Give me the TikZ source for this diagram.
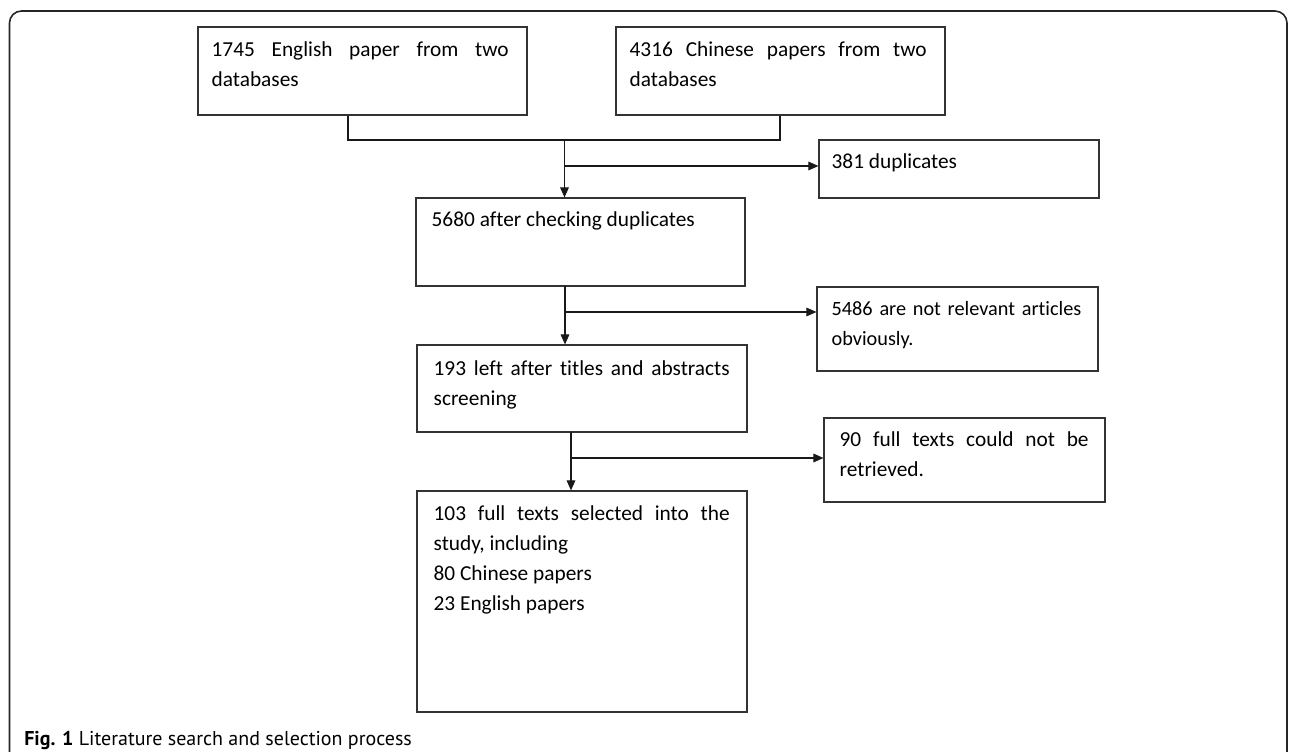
\documentclass[tikz,border=0pt]{standalone}
\usepackage{fontspec}
\setmainfont{Carlito}[RawFeature={-liga}]
\newfontfamily\capfont{PT Sans}
\usetikzlibrary{arrows.meta,fit}
\tikzset{
  frame/.style={draw=black!85, line width=1.2pt, rounded corners=9pt},
  box/.style={draw=black!80, line width=0.9pt, inner sep=0pt},
  txt/.style={anchor=base west, inner sep=0pt, align=justify,
    font={\fontsize{16pt}{22.5pt}\selectfont\hyphenpenalty=10000\tolerance=10000}},
  txtl/.style={anchor=base west, inner sep=0pt, align=left,
    font={\fontsize{16pt}{22.5pt}\selectfont\hyphenpenalty=10000}},
  conn/.style={draw=black!90, line width=0.8pt},
  arr/.style={conn, -{Triangle[length=7.5pt,width=6.5pt]}},
}
\begin{document}
\begin{tikzpicture}[x=0.75pt,y=-0.75pt]
\useasboundingbox (0,0) rectangle (1290,752);
\draw[frame] (9.5,752) -- (9.5,11) -- (1287,11) -- (1287,752);

% boxes
\node[box, fit={(198,27) (527,115)}] (b1) {};
\node[box, fit={(616,27) (945,115)}] (b2) {};
\node[box, fit={(819,140) (1099,198)}] (b381) {};
\node[box, fit={(416,198) (745,286)}] (b5680) {};
\node[box, fit={(817,287) (1098,371)}] (b5486) {};
\node[box, fit={(417,345) (747,432)}] (b193) {};
\node[box, fit={(824,418) (1105,502)}] (b90) {};
\node[box, fit={(417,491) (747,712)}] (b103) {};

% texts
\node[txt, text width=222.75pt] (t1) at ([shift={(14,30)}]b1.north west)
  {1745 English paper from two databases};
\node[txt, text width=222.75pt] (t2) at ([shift={(14,30)}]b2.north west)
  {4316 Chinese papers from two databases};
\node[txtl] (t381) at ([shift={(13,29)}]b381.north west) {381 duplicates};
\node[txtl] (t5680) at ([shift={(16,29)}]b5680.north west) {5680 after checking duplicates};
\node[txtl, text width=200pt, font={\fontsize{15.2pt}{22.5pt}\selectfont\hyphenpenalty=10000}] (t5486) at ([shift={(15,29)}]b5486.north west)
  {5486 are not relevant articles obviously.};
\node[txt, text width=222pt] (t193) at ([shift={(17,31)}]b193.north west)
  {193 left after titles and abstracts screening};
\node[txt, text width=186.75pt] (t90) at ([shift={(16,29)}]b90.north west)
  {90 full texts could not be retrieved.};
\node[txt, text width=222pt] (t103) at ([shift={(17,30)}]b103.north west)
  {103 full texts selected into the study, including\\80 Chinese papers\\23 English papers};

% connectors
\coordinate (j1) at (348,140);
\coordinate (j2) at (780,140);
\coordinate (m1) at (564.5,140);
\coordinate (br1) at (564.5,166);
\coordinate (m2) at (565,286);
\coordinate (br2) at (565,312);
\coordinate (m3) at (571,432);
\coordinate (br3) at (571,458);

\draw[conn] (b1.south -| j1) -- (j1) -- (j2) -- (b2.south -| j2);
\draw[arr] (m1) -- (m1 |- b5680.north);
\draw[arr] (br1) -- (br1 -| b381.west);
\draw[arr] (m2) -- (m2 |- b193.north);
\draw[arr] (br2) -- (br2 -| b5486.west);
\draw[arr] (m3) -- (m3 |- b103.north);
\draw[arr] (br3) -- (br3 -| b90.west);

% caption
\node[anchor=base west, inner sep=0pt, font={\capfont\fontsize{15pt}{17pt}\selectfont}] (cap) at (24,745)
  {\textbf{Fig. 1} Literature search and selection process};
\end{tikzpicture}
\end{document}
